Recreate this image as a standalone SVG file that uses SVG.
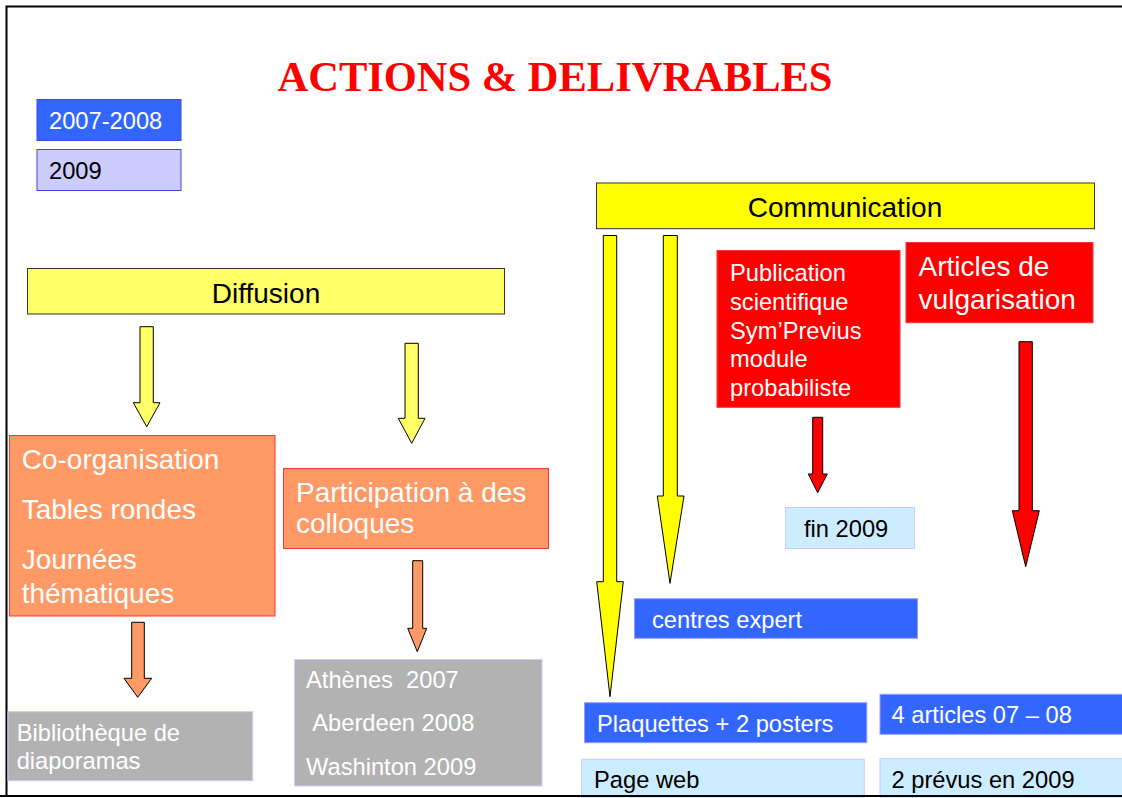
<svg xmlns="http://www.w3.org/2000/svg" width="1122" height="798" viewBox="0 0 1122 798">
<style>
.t{font-family:"Liberation Sans",Arial,sans-serif}
.w{fill:#fff}.k{fill:#000}
.s24{font-size:23.7px}.s28{font-size:28px}
.blue{fill:#3366FF;stroke:#9999FF;stroke-width:1}
.lblue{fill:#CCECFF;stroke:#CCCCFF;stroke-width:1}
.grey{fill:#B2B2B2;stroke:#CCCCFF;stroke-width:1}
.orange{fill:#FF9966;stroke:#FF3333;stroke-width:1}
.red{fill:#FF0000;stroke:#FF3333;stroke-width:1}
.yel{fill:#FFFF00;stroke:#333;stroke-width:1}
.yel2{fill:#FFFF66;stroke:#333;stroke-width:1}
.arr{stroke:#000;stroke-width:1;stroke-linejoin:miter}
</style>
<rect x="0" y="0" width="1122" height="798" fill="#fff"/>
<rect x="6.5" y="6.5" width="1200" height="789.5" fill="none" stroke="#000" stroke-width="2"/>
<text x="555" y="91" text-anchor="middle" font-family="'Liberation Serif','Times New Roman',serif" font-weight="bold" font-size="42.5" fill="#FF0000">ACTIONS &amp; DELIVRABLES</text>

<g id="legend-2007-2008"><rect x="37" y="99.5" width="144" height="41" fill="#3366FF" stroke="#4444DD"/><text class="t s24 w" x="49" y="129">2007-2008</text></g>
<g id="legend-2009"><rect x="37" y="149.5" width="144" height="41" fill="#CCCCFF" stroke="#4444DD"/><text class="t s24 k" x="49" y="179">2009</text></g>

<g id="connectors">
<polygon class="arr" fill="#FFFF66" points="140,326.7 153.3,326.7 153.3,402.7 160,402.7 146.7,426.7 133.3,402.7 140,402.7"/>
<polygon class="arr" fill="#FFFF66" points="405,343.3 418.3,343.3 418.3,418.3 425,418.3 411.7,443.3 398.3,418.3 405,418.3"/>
<polygon class="arr" fill="#FF9966" points="131.7,622.3 144.3,622.3 144.3,678.3 151.7,678.3 137.7,697.3 124,678.3 131.7,678.3"/>
<polygon class="arr" fill="#FF9966" points="412.7,560.7 422.7,560.7 422.7,628.3 426.7,628.3 417.3,651.7 407.7,628.3 412.7,628.3"/>
<polygon class="arr" fill="#FFFF00" points="603.3,235.5 616.7,235.5 616.7,581.7 623.3,581.7 610,696.7 596.7,581.7 603.3,581.7"/>
<polygon class="arr" fill="#FFFF00" points="663.3,235.5 677.3,235.5 677.3,496 684,496 670,583.3 657.3,496 663.3,496"/>
<polygon class="arr" fill="#FF0000" points="812.7,417.3 822.7,417.3 822.7,474 827.3,474 817.7,492.7 808.3,474 812.7,474"/>
<polygon class="arr" fill="#FF0000" points="1019,341.7 1032.3,341.7 1032.3,510.7 1039.3,510.7 1025.7,566.7 1012.3,510.7 1019,510.7"/>
</g>

<g id="diffusion"><rect class="yel2" x="27.5" y="268.5" width="477" height="45.5"/><text class="t s28 k" x="266" y="302.5" text-anchor="middle">Diffusion</text></g>
<g id="co-organisation"><rect class="orange" x="9.5" y="435.5" width="265.5" height="180.5"/>
<text class="t s28 w" x="21.7" y="469">Co-organisation</text>
<text class="t s28 w" x="21.7" y="519">Tables rondes</text>
<text class="t s28 w" x="21.7" y="569.3">Journées</text>
<text class="t s28 w" x="21.7" y="602.7">thématiques</text></g>
<g id="participation"><rect class="orange" x="283.5" y="468.5" width="265" height="80"/>
<text class="t s28 w" x="296" y="501.7">Participation à des</text>
<text class="t s28 w" x="296" y="533.3">colloques</text></g>
<g id="bibliotheque"><rect class="grey" x="8" y="711.7" width="244.7" height="69"/>
<text class="t s24 w" x="16.7" y="740.7">Bibliothèque de</text>
<text class="t s24 w" x="16.7" y="769.3">diaporamas</text></g>
<g id="colloques-list"><rect class="grey" x="294.5" y="659.5" width="247.5" height="126.5"/>
<text class="t s24 w" x="306" y="688.3" xml:space="preserve">Athènes  2007</text>
<text class="t s24 w" x="312.3" y="731">Aberdeen 2008</text>
<text class="t s24 w" x="306" y="775">Washinton 2009</text></g>

<g id="communication"><rect class="yel" x="596.5" y="183" width="498" height="45.7"/><text class="t s28 k" x="845" y="217" text-anchor="middle">Communication</text></g>
<g id="publication"><rect class="red" x="717" y="250.5" width="183" height="156.8"/>
<text class="t s24 w" x="730" y="281">Publication</text>
<text class="t s24 w" x="730" y="309.5">scientifique</text>
<text class="t s24 w" x="730" y="338.5">Sym’Previus</text>
<text class="t s24 w" x="730" y="367">module</text>
<text class="t s24 w" x="730" y="396">probabiliste</text></g>
<g id="articles"><rect class="red" x="906" y="242.5" width="187" height="80.2"/>
<text class="t s28 w" x="918.6" y="276">Articles de</text>
<text class="t s28 w" x="918.6" y="309.3">vulgarisation</text></g>
<g id="fin2009"><rect class="lblue" x="785.5" y="507.5" width="129" height="41"/><text class="t s24 k" x="804" y="536.7">fin 2009</text></g>
<g id="centres-expert"><rect class="blue" x="634.5" y="598.7" width="283" height="39.6"/><text class="t s24 w" x="652" y="628.3">centres expert</text></g>
<g id="plaquettes"><rect class="blue" x="584.5" y="702.7" width="282.3" height="40"/><text class="t s24 w" x="597" y="731.7">Plaquettes + 2 posters</text></g>
<g id="page-web"><rect class="lblue" x="581.5" y="759.3" width="282.8" height="50"/><text class="t s24 k" x="594" y="788.3">Page web</text></g>
<g id="articles-0708"><rect class="blue" x="880" y="694.3" width="260" height="40"/><text class="t s24 w" x="891.5" y="723.3">4 articles 07 – 08</text></g>
<g id="prevus-2009"><rect class="lblue" x="880" y="758.5" width="260" height="50"/><text class="t s24 k" x="891.5" y="788.3">2 prévus en 2009</text></g>
<line x1="0" y1="796" x2="1122" y2="796" stroke="#000" stroke-width="2"/>
</svg>
